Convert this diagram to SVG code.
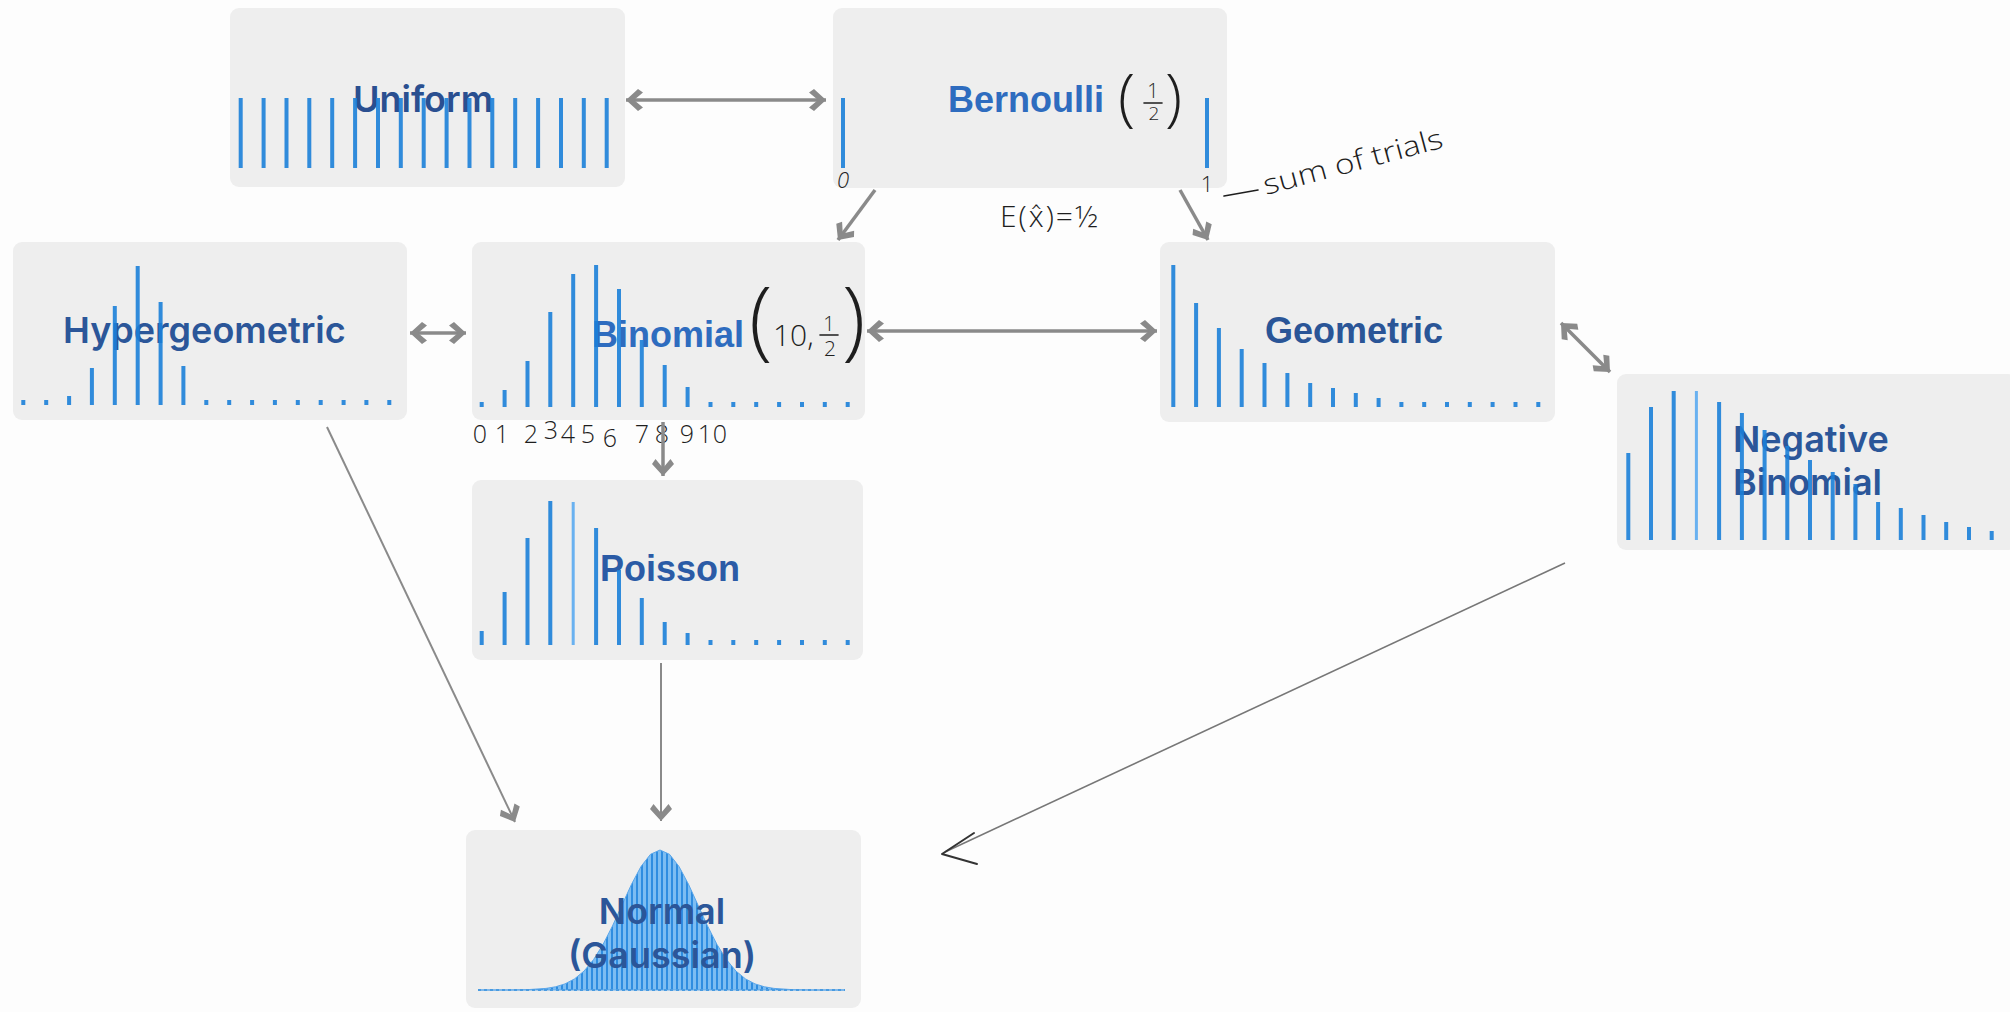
<svg xmlns="http://www.w3.org/2000/svg" width="2010" height="1012" viewBox="0 0 2010 1012">
<style>
.box{fill:#eeeeee}
.bar{stroke:#1b80d8;stroke-width:4;fill:none;opacity:0.9}
.barl{stroke:#5aaaf0;stroke-width:3;fill:none;opacity:0.9}
.lbl{font-family:Inter,"Liberation Sans",sans-serif;font-weight:600;font-size:36px;fill:#2b5699}
.lbl2{font-family:"Liberation Sans",Arial,sans-serif;font-weight:700;font-size:36px;fill:#2e6cbf}
.hand{font-family:"Open Sans","DejaVu Sans",sans-serif;font-weight:300;fill:#1e1e1e}
.conn{stroke:#8a8a8a;stroke-width:3.5;fill:none}
.thin{stroke:#8a8a8a;stroke-width:2;fill:none}
.pen{stroke:#1e1e1e;stroke-width:1.6;fill:none;stroke-linecap:round}
</style>
<defs>
<marker id="ah" markerUnits="userSpaceOnUse" markerWidth="26" markerHeight="30" viewBox="-20 -15 24 30" refX="0" refY="0" orient="auto-start-reverse">
<path d="M0,0 L-12,-11 L-17,-7.5 L-8,0 L-17,7.5 L-12,11 Z" fill="#8a8a8a"/>
</marker>
<pattern id="stripes" patternUnits="userSpaceOnUse" width="5" height="10">
<rect width="5" height="10" fill="#7dbdf2"/>
<rect x="1" width="2" height="10" fill="#2f8de0"/>
</pattern>
</defs>
<rect width="2010" height="1012" fill="#fdfdfd"/>

<g id="uniform">
<rect class="box" x="230" y="8" width="395" height="179" rx="9"/>
<text class="lbl" x="353" y="112" style="fill:#2a4f90">Uniform</text>
<path class="bar" d="M240.7 98V168M263.6 98V168M286.5 98V168M309.3 98V168M332.2 98V168M355.1 98V168M378 98V168M400.8 98V168M423.7 98V168M446.6 98V168M469.5 98V168M492.3 98V168M515.2 98V168M538.1 98V168M561 98V168M583.8 98V168M606.7 98V168"/>
</g>

<g id="bernoulli">
<rect class="box" x="833" y="8" width="394" height="180" rx="9"/>
<text class="lbl2" x="948" y="112">Bernoulli</text>
<path class="bar" d="M843 98V168M1207 98V168"/>
<text class="hand" x="1118" y="119" font-size="63">(</text>
<text class="hand" x="1153" y="98" font-size="20" text-anchor="middle">1</text>
<path class="pen" d="M1144 103H1162"/>
<text class="hand" x="1154" y="120" font-size="19" text-anchor="middle">2</text>
<text class="hand" x="1165" y="119" font-size="63">)</text>
<text class="hand" x="843" y="188" font-size="22" font-style="italic" text-anchor="middle">0</text>
<text class="hand" x="1207" y="192" font-size="22" text-anchor="middle">1</text>
<text class="hand" x="1000" y="227" font-size="30" letter-spacing="2">E(x̂)=½</text>
<path class="pen" d="M1224 196L1258 190"/>
<text class="hand" x="1266" y="195" font-size="28" textLength="185" lengthAdjust="spacingAndGlyphs" transform="rotate(-15 1266 195)">sum of trials</text>
</g>

<g id="hypergeometric">
<rect class="box" x="13" y="242" width="394" height="178" rx="9"/>
<text class="lbl" x="63" y="343">Hypergeometric</text>
<path class="bar" d="M69.1 396V405M91.9 368V405M114.8 306V405M137.7 266V405M160.6 302V405M183.4 366V405M23.3 400V405M46.2 400V405M206.3 400V405M229.2 400V405M252.1 400V405M274.9 400V405M297.8 400V405M320.7 400V405M343.6 400V405M366.4 400V405M389.3 400V405"/>
</g>

<g id="binomial">
<rect class="box" x="472" y="242" width="393" height="178" rx="9"/>
<text class="lbl2" x="592" y="347">Binomial</text>
<path class="bar" d="M504.6 390V407M527.5 361V407M550.3 312V407M573.2 274V407M596.1 265V407M619 289V407M641.8 340V407M664.7 365V407M687.6 387V407M481.7 402V407M710.5 402V407M733.3 402V407M756.2 402V407M779.1 402V407M802 402V407M824.8 402V407M847.7 402V407"/>
<text class="hand" x="749" y="349" font-size="86">(</text>
<text class="hand" x="773" y="346" font-size="30">10,</text>
<text class="hand" x="829" y="331" font-size="20" text-anchor="middle">1</text>
<path class="pen" d="M820 335H838"/>
<text class="hand" x="830" y="356" font-size="21" text-anchor="middle">2</text>
<text class="hand" x="842" y="349" font-size="86">)</text>
<text class="hand" font-size="25" text-anchor="middle" x="480 502 531 551 568 588 610 642 662 687 705 720" y="443 443 443 439 443 443 447 443 443 443 443 443">012345678910</text>
</g>

<g id="geometric">
<rect class="box" x="1160" y="242" width="395" height="180" rx="9"/>
<text class="lbl2" x="1265" y="343" style="fill:#2a5597">Geometric</text>
<path class="bar" d="M1173.3 265V407M1196.1 303V407M1218.9 328V407M1241.7 349V407M1264.5 363V407M1287.4 373V407M1310.2 383V407M1333 388V407M1355.8 393V407M1378.6 398V407M1401.4 402V407M1424.2 402V407M1447 402V407M1469.8 402V407M1492.6 402V407M1515.5 402V407M1538.3 402V407"/>
</g>

<g id="negative-binomial">
<rect class="box" x="1617" y="374" width="400" height="176" rx="9"/>
<text class="lbl" x="1733" y="452">Negative</text>
<text class="lbl" x="1733" y="495">Binomial</text>
<path class="bar" d="M1628.3 453V540M1651 407V540M1673.7 391V540M1719.1 402V540M1741.9 413V540M1764.6 430V540M1787.3 446V540M1810 460V540M1832.7 472V540M1855.4 484V540M1878.1 502V540M1900.8 508V540M1923.5 515V540M1946.2 522V540M1969 527V540M1991.7 531V540"/>
<path class="barl" d="M1696.4 391V540"/>
</g>

<g id="poisson">
<rect class="box" x="472" y="480" width="391" height="180" rx="9"/>
<text class="lbl2" x="600" y="581" style="fill:#2b5ba6">Poisson</text>
<path class="bar" d="M481.7 631V645M504.6 592V645M527.5 538V645M550.3 501V645M596.1 528V645M619 570V645M641.8 598V645M664.7 622V645M687.6 633V645M710.5 640V645M733.3 640V645M756.2 640V645M779.1 640V645M802 640V645M824.8 640V645M847.7 640V645"/>
<path class="barl" d="M573.2 502V645"/>
</g>

<g id="normal">
<rect class="box" x="466" y="830" width="395" height="178" rx="9"/>
<path d="M478 990L508 990L527 989.7L546 988.4L555.5 986.8L565 983.9L574.5 978.9L584 971.1L593.5 959.7L603 944.5L612.5 925.9L622 905.1L631.5 884.3L641 866.5L650.5 854.3L660 850L669.5 854.3L679 866.5L688.5 884.3L698 905.1L707.5 925.9L717 944.5L726.5 959.7L736 971.1L745.5 978.9L755 983.9L764.5 986.8L774 988.4L793 989.7L812 990L845 990Z" fill="url(#stripes)" stroke="#5aa6ea" stroke-width="1" stroke-linejoin="round"/>
<path d="M478 990H845" stroke="#4a9be0" stroke-width="2" stroke-dasharray="3 3"/>
<text class="lbl" x="662" y="924" text-anchor="middle">Normal</text>
<text class="lbl" x="662" y="968" text-anchor="middle">(Gaussian)</text>
</g>

<g id="connectors">
<path class="conn" d="M626 100H826" marker-start="url(#ah)" marker-end="url(#ah)"/>
<path class="conn" d="M875 190L838 240" marker-end="url(#ah)"/>
<path class="conn" d="M1180 190L1208 240" marker-end="url(#ah)"/>
<path class="conn" d="M410 333H466" marker-start="url(#ah)" marker-end="url(#ah)"/>
<path class="conn" d="M867 331H1157" marker-start="url(#ah)" marker-end="url(#ah)"/>
<path class="conn" d="M1561 323L1610 372" marker-start="url(#ah)" marker-end="url(#ah)"/>
<path class="conn" d="M663 422V476" marker-end="url(#ah)"/>
<path class="thin" d="M327 427L515 822" marker-end="url(#ah)"/>
<path class="thin" d="M661 663V821" marker-end="url(#ah)"/>
<path d="M1565 563L945 852" stroke="#777" stroke-width="1.6" fill="none"/>
<path d="M974 833L942 854L977 864" stroke="#333" stroke-width="2" fill="none" stroke-linecap="round" stroke-linejoin="round"/>
</g>
</svg>
